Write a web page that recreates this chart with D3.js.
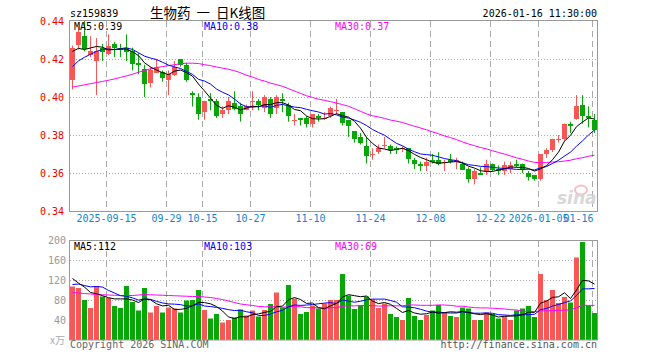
<!DOCTYPE html>
<html><head><meta charset="utf-8">
<script src="https://cdn.jsdelivr.net/npm/d3@7"></script>
<style>body{margin:0;background:#fff}svg{display:block}</style>
</head><body>
<svg id="c" width="660" height="360"></svg>
<script>
// ---------- data ----------
const dates = ["2025-09-05","2025-09-08","2025-09-09","2025-09-10","2025-09-11","2025-09-12","2025-09-15","2025-09-16","2025-09-17","2025-09-18","2025-09-19","2025-09-22","2025-09-23","2025-09-24","2025-09-25","2025-09-26","2025-09-29","2025-09-30","2025-10-09","2025-10-10","2025-10-13","2025-10-14","2025-10-15","2025-10-16","2025-10-17","2025-10-20","2025-10-21","2025-10-22","2025-10-23","2025-10-24","2025-10-27","2025-10-28","2025-10-29","2025-10-30","2025-10-31","2025-11-03","2025-11-04","2025-11-05","2025-11-06","2025-11-07","2025-11-10","2025-11-11","2025-11-12","2025-11-13","2025-11-14","2025-11-17","2025-11-18","2025-11-19","2025-11-20","2025-11-21","2025-11-24","2025-11-25","2025-11-26","2025-11-27","2025-11-28","2025-12-01","2025-12-02","2025-12-03","2025-12-04","2025-12-05","2025-12-08","2025-12-09","2025-12-10","2025-12-11","2025-12-12","2025-12-15","2025-12-16","2025-12-17","2025-12-18","2025-12-19","2025-12-22","2025-12-23","2025-12-24","2025-12-25","2025-12-26","2025-12-29","2025-12-30","2025-12-31","2026-01-05","2026-01-06","2026-01-07","2026-01-08","2026-01-09","2026-01-12","2026-01-13","2026-01-14","2026-01-15","2026-01-16"];
const open  = [0.409,0.427,0.432,0.422,0.419,0.426,0.423,0.428,0.426,0.426,0.424,0.418,0.415,0.407,0.413,0.413,0.409,0.412,0.420,0.417,0.402,0.400,0.392,0.399,0.398,0.391,0.393,0.397,0.395,0.393,0.398,0.398,0.394,0.399,0.394,0.399,0.396,0.388,0.389,0.389,0.386,0.390,0.389,0.390,0.393,0.392,0.388,0.382,0.379,0.374,0.370,0.371,0.375,0.374,0.373,0.373,0.373,0.367,0.365,0.364,0.367,0.367,0.366,0.367,0.366,0.365,0.362,0.357,0.360,0.361,0.365,0.362,0.361,0.362,0.365,0.365,0.360,0.359,0.357,0.370,0.372,0.378,0.378,0.386,0.388,0.396,0.390,0.388];
const high  = [0.427,0.437,0.440,0.432,0.431,0.428,0.433,0.429,0.428,0.433,0.426,0.423,0.417,0.416,0.420,0.414,0.414,0.419,0.420,0.418,0.403,0.402,0.398,0.402,0.399,0.395,0.400,0.403,0.397,0.396,0.403,0.399,0.401,0.400,0.401,0.402,0.397,0.391,0.389,0.390,0.391,0.391,0.392,0.395,0.399,0.392,0.388,0.382,0.381,0.379,0.373,0.375,0.379,0.375,0.374,0.374,0.373,0.368,0.366,0.368,0.370,0.371,0.367,0.370,0.368,0.366,0.363,0.362,0.363,0.367,0.365,0.364,0.366,0.366,0.367,0.365,0.361,0.359,0.370,0.373,0.378,0.380,0.386,0.387,0.401,0.401,0.395,0.391];
const low   = [0.404,0.425,0.424,0.421,0.401,0.419,0.422,0.421,0.421,0.419,0.414,0.412,0.400,0.405,0.413,0.408,0.401,0.411,0.416,0.408,0.395,0.388,0.388,0.393,0.389,0.389,0.391,0.393,0.387,0.393,0.393,0.393,0.392,0.389,0.391,0.392,0.387,0.385,0.385,0.384,0.384,0.387,0.388,0.389,0.391,0.385,0.379,0.376,0.375,0.365,0.367,0.370,0.373,0.370,0.370,0.371,0.365,0.362,0.361,0.361,0.365,0.364,0.361,0.365,0.362,0.362,0.355,0.354,0.359,0.359,0.361,0.359,0.359,0.360,0.363,0.360,0.356,0.356,0.356,0.368,0.371,0.376,0.377,0.381,0.388,0.386,0.384,0.381];
const close = [0.426,0.434,0.425,0.424,0.424,0.424,0.427,0.426,0.425,0.424,0.417,0.417,0.407,0.414,0.416,0.410,0.412,0.416,0.417,0.409,0.401,0.391,0.398,0.398,0.390,0.393,0.398,0.394,0.391,0.395,0.398,0.396,0.400,0.391,0.400,0.398,0.390,0.388,0.388,0.386,0.391,0.389,0.389,0.394,0.393,0.386,0.385,0.378,0.376,0.369,0.370,0.373,0.375,0.372,0.372,0.373,0.367,0.365,0.364,0.366,0.366,0.365,0.366,0.366,0.367,0.362,0.357,0.361,0.359,0.365,0.362,0.361,0.364,0.364,0.364,0.362,0.358,0.357,0.370,0.372,0.378,0.378,0.386,0.385,0.395,0.390,0.389,0.383];
const volume = [107,104,80,64,108,87,84,68,64,108,76,59,104,55,68,55,65,63,55,79,80,100,60,43,52,35,40,45,61,49,59,47,60,72,95,65,110,83,52,56,69,63,73,80,80,132,89,62,70,87,81,64,73,52,46,40,84,48,40,50,59,70,55,48,46,65,63,40,40,55,52,43,48,40,59,63,68,46,132,80,100,74,86,75,165,196,69,54];
// lead-in values before the window (estimated from where the averages start)
const preClose  = [0.404,0.406,0.408,0.409,0.413,0.426,0.428,0.420,0.420];
const preVolume = [95,110,90,100,100,150,120,118,120];
// MA30 for the first 29 sessions (history not in window)
const ma30PriceLead = [0.4052,0.4058,0.4064,0.4070,0.4076,0.4082,0.4088,0.4095,0.4103,0.4111,0.4120,0.4130,0.4140,0.4148,0.4155,0.4160,0.4165,0.4170,0.4175,0.4178,0.4178,0.4176,0.4170,0.4165,0.4158,0.4152,0.4146,0.4138,0.4128];
const ma30VolLead   = [95,94,93,92,91,90.5,90,89.5,89,89,89,90,91,90.5,90,89.5,89,88.5,88,87.5,87,87,86,85,83,81,78,75,72];
const priceTicks = [0.34,0.36,0.38,0.40,0.42,0.44];
const volTicks = [40,80,120,160,200];
const dateLabels = {"2025-09-15":"2025-09-15","2025-09-29":"09-29","2025-10-15":"10-15","2025-10-27":"10-27","2025-11-10":"11-10","2025-11-24":"11-24","2025-12-08":"12-08","2025-12-22":"12-22","2026-01-05":"2026-01-05","2026-01-16":"01-16"};
const titleCode = "sz159839", titleName = "生物药 一 日K线图", stamp = "2026-01-16 11:30:00";

// ---------- helpers ----------
function ma(series, pre, n){
  const all = pre.concat(series), off = pre.length;
  return series.map((_, i) => {
    const j = i + off; if (j - n + 1 < 0) return null;
    let s = 0; for (let k = j - n + 1; k <= j; k++) s += all[k]; return s / n;
  });
}
function ma30(series, lead){
  return series.map((_, i) => {
    if (i < 29) return lead[i];
    let s = 0; for (let k = i - 29; k <= i; k++) s += series[k]; return s / 30;
  });
}
const ma5p = ma(close, preClose, 5), ma10p = ma(close, preClose, 10), ma30p = ma30(close, ma30PriceLead);
const ma5v = ma(volume, preVolume, 5), ma10v = ma(volume, preVolume, 10), ma30v = ma30(volume, ma30VolLead);

const RED = "#f75757", GREEN = "#07a707", GRID = "#aaaaaa", FRAME = "#999999";
const MONO = "'DejaVu Sans Mono', 'Liberation Mono', monospace";
const svg = d3.select("#c");
svg.append("rect").attr("width",660).attr("height",360).attr("fill","#fff");

const L = 70, R = 597;
const x = d3.scaleBand().domain(dates).range([L, R]).paddingInner(1/6).paddingOuter(0).align(0);
const yP = d3.scaleLinear().domain([0.34, 0.44]).range([211, 21]);
const yV = d3.scaleLinear().domain([0, 200]).range([340, 240]);

// ---------- titles ----------
svg.append("text").attr("x",70).attr("y",16.5).attr("font-family",MONO).attr("font-size",10).attr("fill","#000").text(titleCode);
svg.append("text").attr("x",150).attr("y",17.5).attr("font-family","'Noto Sans CJK SC', sans-serif").attr("font-size",13.5).attr("word-spacing","3px").attr("fill","#000").text(titleName);
svg.append("text").attr("x",597).attr("y",16.5).attr("text-anchor","end").attr("font-family",MONO).attr("font-size",10).attr("fill","#000").text(stamp);

// ---------- grid ----------
function panel(top, bottom, yScale, gridVals){
  const g = svg.append("g");
  g.selectAll("line.h").data(gridVals).join("line")
    .attr("x1",L).attr("x2",R).attr("y1",d=>Math.round(yScale(d))+0.5).attr("y2",d=>Math.round(yScale(d))+0.5)
    .attr("stroke",GRID).attr("stroke-dasharray","1,2");
  g.selectAll("line.v").data(Object.keys(dateLabels)).join("line")
    .attr("x1",d=>x(d)+0.5).attr("x2",d=>x(d)+0.5).attr("y1",top).attr("y2",bottom)
    .attr("stroke",GRID).attr("stroke-dasharray","6,4");
  return g;
}
panel(21, 211, yP, [0.36,0.38,0.40,0.42]);
panel(241, 340, yV, [40,80,120,160]);

// watermark
const wm = svg.append("g").attr("opacity",0.9);
wm.append("ellipse").attr("cx",581).attr("cy",190).attr("rx",6).attr("ry",4.5).attr("fill","none").attr("stroke","#f4bcbc").attr("stroke-width",2);
wm.append("text").attr("x",557).attr("y",204).attr("font-family","'DejaVu Sans', sans-serif").attr("font-style","italic").attr("font-weight","bold").attr("font-size",17).attr("fill","#d4d4d4").text("sina");

// ---------- candles ----------
const idx = d3.range(dates.length);
const cg = svg.append("g");
cg.selectAll("line.w").data(idx).join("line")
  .attr("x1",i=>x(dates[i])+2.5).attr("x2",i=>x(dates[i])+2.5)
  .attr("y1",i=>yP(high[i])).attr("y2",i=>yP(low[i]))
  .attr("stroke",i=>close[i]>=open[i]?RED:GREEN);
cg.selectAll("rect").data(idx).join("rect")
  .attr("x",i=>x(dates[i])).attr("width",x.bandwidth())
  .attr("y",i=>Math.round(yP(Math.max(open[i],close[i]))))
  .attr("height",i=>Math.max(1,Math.round(Math.abs(yP(open[i])-yP(close[i])))))
  .attr("fill",i=>close[i]>=open[i]?RED:GREEN);

const cx = i => x(dates[i]) + 2.5;
function drawLine(vals, yScale, color){
  svg.append("path").datum(idx.filter(i=>vals[i]!=null))
    .attr("d", d3.line().x(cx).y(i=>yScale(vals[i])))
    .attr("fill","none").attr("stroke",color).attr("stroke-width",1);
}
drawLine(ma30p, yP, "#ff00ff");
drawLine(ma10p, yP, "#0000ff");
drawLine(ma5p, yP, "#000000");

// ---------- volume ----------
svg.append("g").selectAll("rect").data(idx).join("rect")
  .attr("x",i=>x(dates[i])).attr("width",x.bandwidth())
  .attr("y",i=>yV(volume[i])).attr("height",i=>yV(0)-yV(volume[i]))
  .attr("fill",i=>close[i]>=open[i]?RED:GREEN);
drawLine(ma30v, yV, "#ff00ff");
drawLine(ma10v, yV, "#0000ff");
drawLine(ma5v, yV, "#000000");

// ---------- frames ----------
svg.append("rect").attr("x",69.5).attr("y",20.5).attr("width",528).attr("height",191).attr("fill","none").attr("stroke",FRAME);
svg.append("rect").attr("x",69.5).attr("y",240.5).attr("width",528).attr("height",99.5).attr("fill","none").attr("stroke",FRAME);

// ---------- axes ----------
const ax = svg.append("g").attr("transform","translate(70,0)")
  .call(d3.axisLeft(yP).tickValues(priceTicks).tickFormat(d3.format(".2f")).tickSize(0).tickPadding(6));
ax.select(".domain").remove();
ax.selectAll("text").attr("font-family",MONO).attr("font-size",10).attr("fill","#ee0000").attr("dy","0.36em");

const av = svg.append("g").attr("transform","translate(70,0)")
  .call(d3.axisLeft(yV).tickValues(volTicks).tickSize(0).tickPadding(4));
av.select(".domain").remove();
av.selectAll("text").attr("font-family",MONO).attr("font-size",10).attr("fill","#999").attr("dy","0.36em");
svg.append("text").attr("x",65).attr("y",344).attr("text-anchor","end").attr("font-family","'Noto Sans CJK SC', sans-serif").attr("font-size",10).attr("fill","#aaa").text("x万");

const axb = svg.append("g").attr("transform","translate(-2,211)")
  .call(d3.axisBottom(x).tickValues(Object.keys(dateLabels)).tickFormat(d=>dateLabels[d]).tickSize(0).tickPadding(4));
axb.select(".domain").remove();
axb.selectAll("text").attr("font-family",MONO).attr("font-size",10).attr("fill","#1584d4").attr("dy","0.71em");
axb.selectAll(".tick").filter(d=>d==="2026-01-16").select("text").attr("text-anchor","end").attr("dx","1");

// ---------- MA legends ----------
function legend(y, items){
  items.forEach(([tx, lx, col]) => svg.append("text").attr("x",lx).attr("y",y).attr("font-family",MONO).attr("font-size",10).attr("fill",col).text(tx));
}
const f2 = d3.format(".2f"), f0 = d3.format(".0f");
legend(29.5, [["MA5:"+f2(ma5p[87]),74,"#000"],["MA10:"+f2(ma10p[87]),204,"#0000ff"],["MA30:"+f2(ma30p[87]),335,"#ff00ff"]]);
legend(249.5, [["MA5:"+f0(ma5v[87]),74,"#000"],["MA10:"+f0(ma10v[87]),204,"#0000ff"],["MA30:"+f0(ma30v[87]),335,"#ff00ff"]]);

// ---------- footer ----------
svg.append("text").attr("x",70).attr("y",348).attr("font-family",MONO).attr("font-size",10).attr("fill","#666").text("Copyright 2026 SINA.COM");
svg.append("text").attr("x",597).attr("y",348).attr("text-anchor","end").attr("font-family",MONO).attr("font-size",10).attr("fill","#555").text("http://finance.sina.com.cn");
</script>
</body></html>
